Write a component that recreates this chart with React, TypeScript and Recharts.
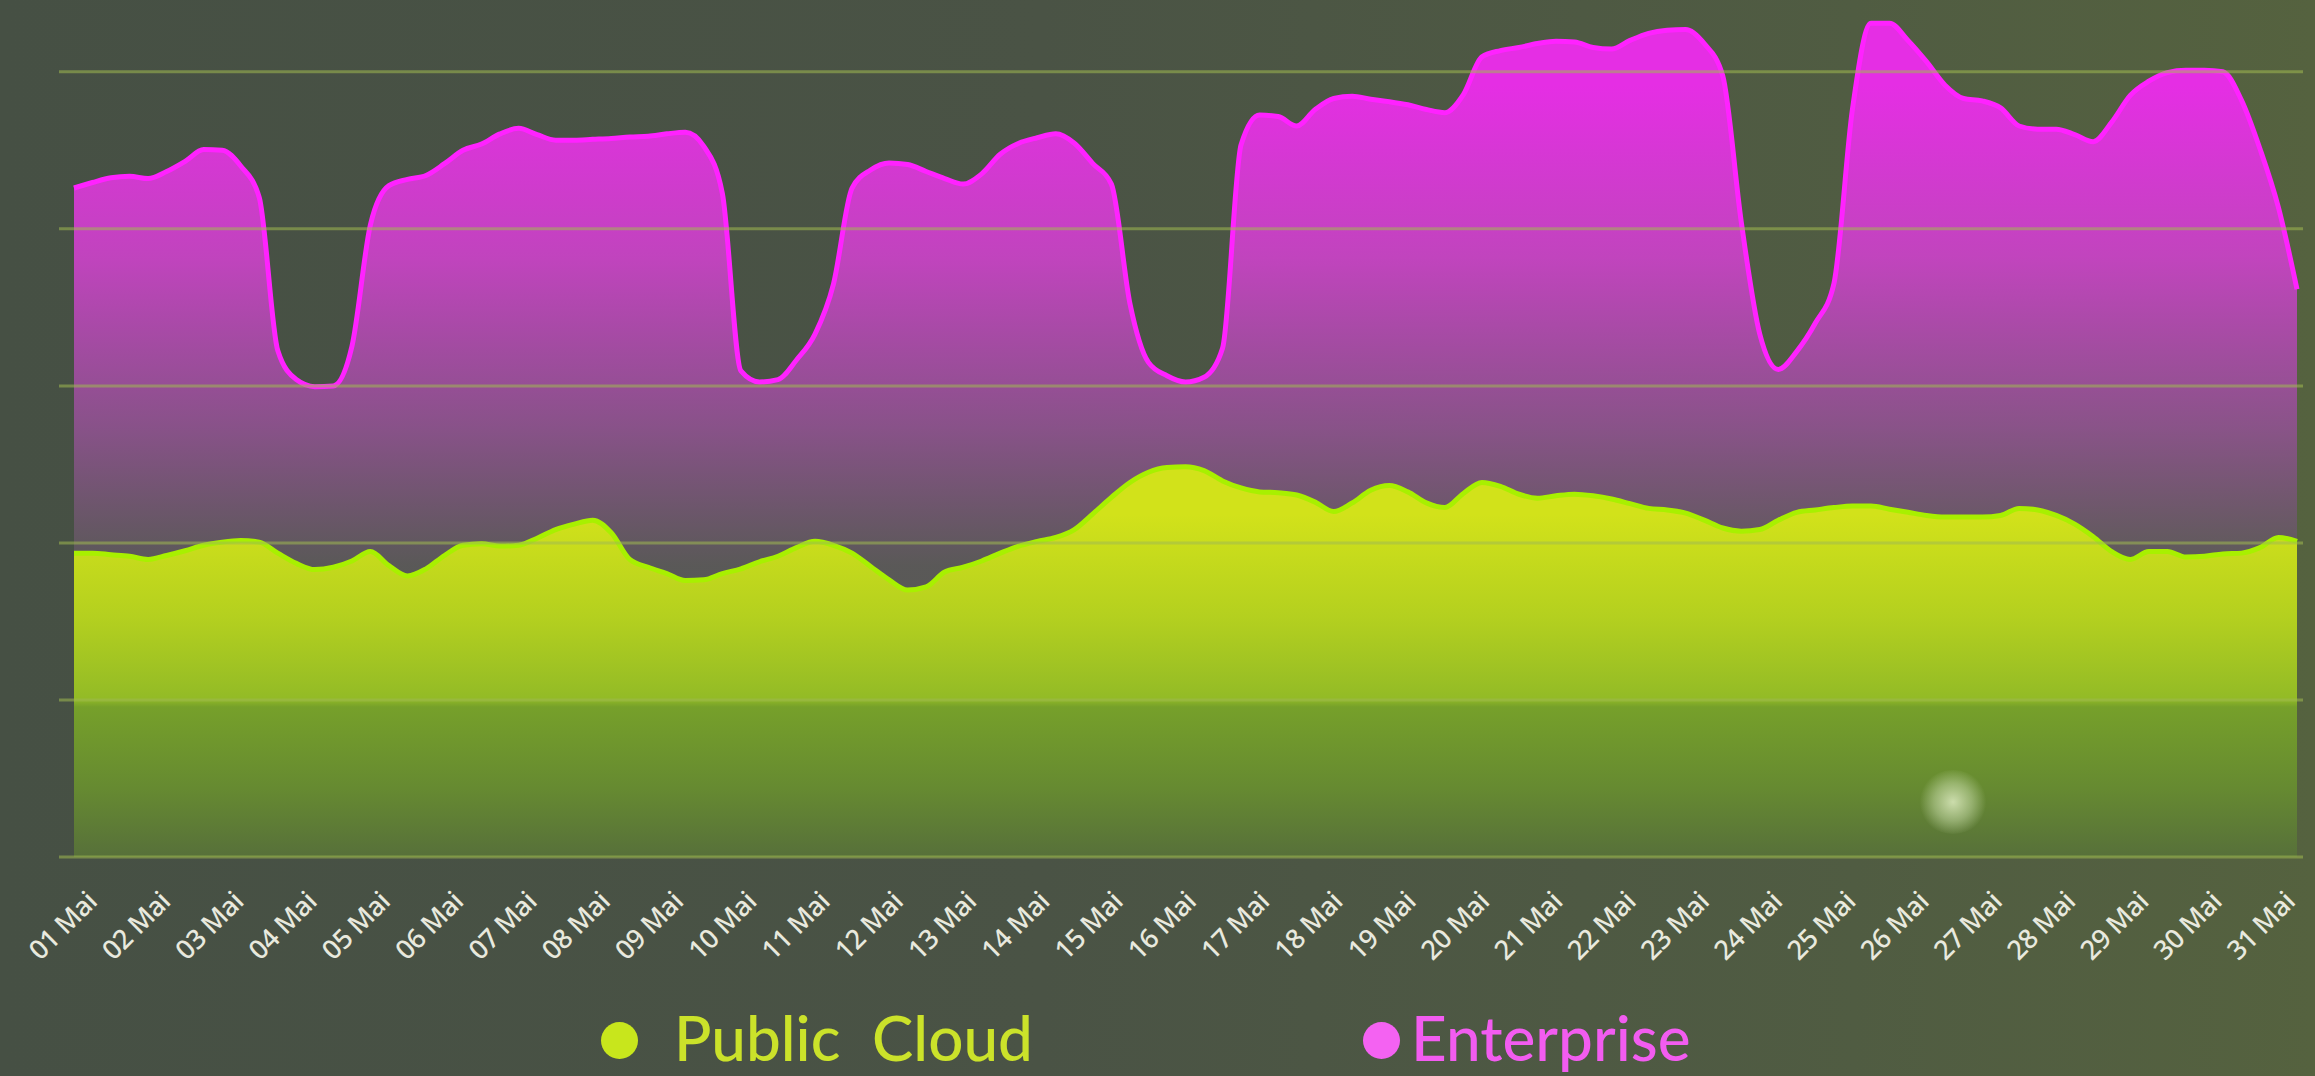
import { AreaChart, Area, XAxis, YAxis, ReferenceLine } from "recharts";

// day labels on the x axis
const days = [
  "01 Mai", "02 Mai", "03 Mai", "04 Mai", "05 Mai", "06 Mai", "07 Mai", "08 Mai",
  "09 Mai", "10 Mai", "11 Mai", "12 Mai", "13 Mai", "14 Mai", "15 Mai", "16 Mai",
  "17 Mai", "18 Mai", "19 Mai", "20 Mai", "21 Mai", "22 Mai", "23 Mai", "24 Mai",
  "25 Mai", "26 Mai", "27 Mai", "28 Mai", "29 Mai", "30 Mai", "31 Mai",
];

// samples every 6 hours (4 per day)
const enterprise = [
  85.2, 85.9, 86.5, 86.7,
  86.4, 87.3, 88.6, 90.1,
  90.0, 88.0, 84.0, 64.5,
  60.8, 59.9, 60.0, 65.0,
  80.5, 85.5, 86.3, 86.8,
  88.3, 90.0, 90.8, 92.1,
  92.8, 92.0, 91.3, 91.3,
  91.4, 91.5, 91.7, 91.8,
  92.1, 92.3, 90.5, 84.5,
  61.9, 60.5, 60.8, 63.3,
  66.6, 73.0, 85.2, 87.5,
  88.4, 88.2, 87.3, 86.4,
  85.7, 87.0, 89.5, 90.9,
  91.6, 92.1, 90.9, 88.3,
  85.7, 70.5, 63.0, 61.3,
  60.5, 61.1, 64.8, 90.7,
  94.5, 94.3, 93.1, 95.2,
  96.6, 96.9, 96.5, 96.2,
  95.8, 95.2, 94.8, 97.1,
  101.9, 102.7, 103.1, 103.6,
  103.9, 103.8, 103.1, 102.9,
  104.0, 104.9, 105.3, 105.4,
  103.6, 99.5, 80.9, 66.6,
  62.1, 64.4, 68.0, 73.0,
  95.2, 106.2, 106.2, 104.0,
  101.3, 98.3, 96.6, 96.3,
  95.4, 93.1, 92.7, 92.7,
  92.0, 91.1, 93.6, 97.0,
  98.8, 99.9, 100.2, 100.2,
  100.0, 96.4, 90.2, 82.7,
  72.3,
];

const publicCloud = [
  38.7, 38.7, 38.5, 38.3,
  37.9, 38.4, 39.0, 39.7,
  40.1, 40.3, 40.1, 38.7,
  37.4, 36.6, 36.9, 37.7,
  38.9, 37.1, 35.8, 36.7,
  38.4, 39.7, 39.9, 39.6,
  39.7, 40.6, 41.7, 42.4,
  42.9, 41.3, 37.9, 36.9,
  36.1, 35.2, 35.3, 36.1,
  36.7, 37.6, 38.3, 39.4,
  40.2, 39.7, 38.7, 37.0,
  35.3, 34.0, 34.4, 36.3,
  36.9, 37.7, 38.7, 39.6,
  40.2, 40.7, 41.7, 43.7,
  45.8, 47.7, 49.0, 49.6,
  49.7, 49.2, 47.9, 47.0,
  46.5, 46.4, 46.1, 45.2,
  44.0, 45.1, 46.7, 47.3,
  46.5, 45.1, 44.5, 46.3,
  47.7, 47.2, 46.2, 45.7,
  46.0, 46.2, 46.0, 45.6,
  45.0, 44.4, 44.2, 43.8,
  42.9, 41.9, 41.5, 41.7,
  42.9, 43.9, 44.2, 44.5,
  44.7, 44.7, 44.3, 43.9,
  43.5, 43.3, 43.3, 43.3,
  43.5, 44.4, 44.2, 43.5,
  42.4, 40.8, 38.9, 37.9,
  38.9, 38.9, 38.2, 38.3,
  38.6, 38.7, 39.4, 40.7,
  40.2,
];

const gridValues = [0, 20, 40, 60, 80, 100];

const data = publicCloud.map((v, i) => ({
  t: i / 4,
  publicCloud: v,
  enterprise: enterprise[i],
}));

const GREEN = "#a8f000";
const PINK = "#ff22ff";

function DayTick(props: any) {
  const { x, y, payload, index } = props;
  const dx = -12 - index * 0.83;
  return (
    <g transform={`translate(${x + dx},${y + 60})`}>
      <text
        transform="rotate(-45)"
        textAnchor="middle"
        dominantBaseline="central"
        fill="#e8e9de"
        fontSize={27}
        fontWeight={500}
        fontFamily="'Noto Sans', Lato, sans-serif"
        letterSpacing={-0.5}
      >
        {days[payload.value]}
      </text>
    </g>
  );
}

export default function App() {
  return (
    <div
      style={{
        position: "absolute",
        left: 0,
        top: 0,
        width: 2315,
        height: 1076,
        overflow: "hidden",
        background:
          "linear-gradient(90deg, #465044 0%, #4a5345 45%, #505c42 80%, #55623f 100%)",
      }}
    >
      <AreaChart
        width={2315}
        height={1076}
        data={data}
        margin={{ top: 9, right: 12, left: 59, bottom: 119 }}
      >
        <defs>
          <linearGradient id="entFill" x1="0" y1="0" x2="0" y2="857" gradientUnits="userSpaceOnUse">
            <stop offset="0.1" stopColor="#e52ee4" stopOpacity={1} />
            <stop offset="0.3" stopColor="#c743c4" stopOpacity={0.95} />
            <stop offset="0.5" stopColor="#8f5290" stopOpacity={0.9} />
            <stop offset="0.66" stopColor="#5d5a5b" stopOpacity={0.85} />
            <stop offset="1" stopColor="#55584f" stopOpacity={0.8} />
          </linearGradient>
          <linearGradient id="pubFill" x1="0" y1="0" x2="0" y2="857" gradientUnits="userSpaceOnUse">
            <stop offset="0.6" stopColor="#d2e21a" stopOpacity={1} />
            <stop offset="0.72" stopColor="#b4d01f" stopOpacity={1} />
            <stop offset="0.815" stopColor="#93bb26" stopOpacity={1} />
            <stop offset="0.825" stopColor="#76a02a" stopOpacity={1} />
            <stop offset="0.92" stopColor="#668a31" stopOpacity={1} />
            <stop offset="1" stopColor="#57703a" stopOpacity={1} />
          </linearGradient>
        </defs>
        <XAxis
          dataKey="t"
          type="number"
          domain={[0, 30]}
          ticks={days.map((_, i) => i)}
          interval={0}
          padding={{ left: 15, right: 6 }}
          axisLine={false}
          tickLine={false}
          height={100}
          tick={<DayTick />}
        />
        <YAxis hide domain={[0, 108]} ticks={gridValues} />
        <Area
          type="monotone"
          dataKey="enterprise"
          name="Enterprise"
          stroke={PINK}
          strokeWidth={5}
          fill="url(#entFill)"
          fillOpacity={1}
          dot={false}
          activeDot={false}
          isAnimationActive={false}
        />
        <Area
          type="monotone"
          dataKey="publicCloud"
          name="Public Cloud"
          stroke={GREEN}
          strokeWidth={5}
          fill="url(#pubFill)"
          fillOpacity={1}
          dot={false}
          activeDot={false}
          isAnimationActive={false}
        />
        {gridValues.map((v) => (
          <ReferenceLine
            key={v}
            y={v}
            stroke="rgba(160,185,80,0.55)"
            strokeWidth={3}
          />
        ))}
      </AreaChart>

      {/* soft glow spot */}
      <div
        style={{
          position: "absolute",
          left: 1918,
          top: 770,
          width: 70,
          height: 64,
          borderRadius: "50%",
          background:
            "radial-gradient(circle, rgba(215,230,185,0.9) 0%, rgba(200,220,170,0.5) 40%, rgba(200,220,170,0) 70%)",
        }}
      />

      {/* legend */}
      <div
        style={{
          position: "absolute",
          left: 0,
          top: 1000,
          width: 2315,
          height: 74,
          fontFamily: "Lato, 'Noto Sans', sans-serif",
          fontSize: 62,
          fontWeight: 500,
        }}
      >
        <div style={{ position: "absolute", left: 601, top: 22, width: 37, height: 37, borderRadius: "50%", background: "#c8e61c" }} />
        <div style={{ position: "absolute", left: 674, top: 0, height: 74, color: "#cbe22a", wordSpacing: 16, whiteSpace: "nowrap", lineHeight: "74px" }}>
          Public Cloud
        </div>
        <div style={{ position: "absolute", left: 1363, top: 22, width: 37, height: 37, borderRadius: "50%", background: "#f462f2" }} />
        <div style={{ position: "absolute", left: 1411, top: 0, height: 74, color: "#f25cf0", whiteSpace: "nowrap", lineHeight: "74px" }}>
          Enterprise
        </div>
      </div>
    </div>
  );
}
